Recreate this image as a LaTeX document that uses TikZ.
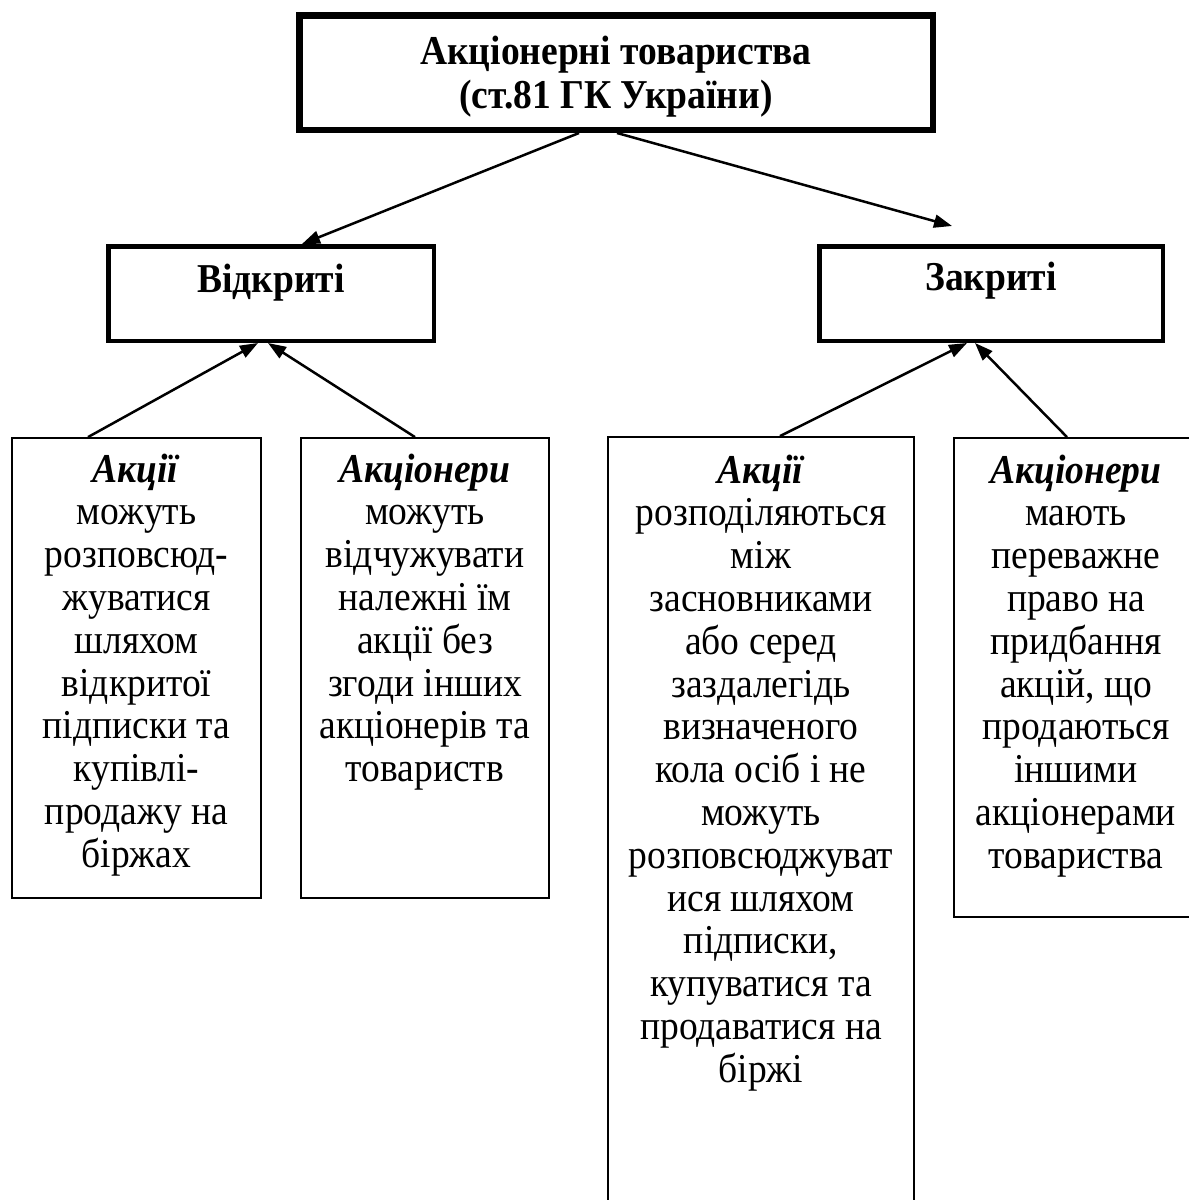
\documentclass[tikz,border=0pt]{standalone}
\usepackage{fontspec}
\setmainfont{Liberation Serif}[FakeStretch=0.915]
\usetikzlibrary{arrows.meta}
\begin{document}
\begin{tikzpicture}[x=1pt,y=-1pt,
  bigbox/.style={draw, line width=6.5pt, inner sep=0, minimum width=633.5pt, minimum height=114.5pt},
  midbox/.style={draw, line width=4.5pt, inner sep=0, minimum height=94.5pt},
  lowbox/.style={draw, line width=1.8pt, inner sep=0},
  txt/.style={align=center, inner sep=0, anchor=north, font=\fontsize{41}{42.8}\selectfont},
  conn/.style={line width=2.5pt, -{Triangle[length=18pt,width=13pt]}},
]
\useasboundingbox (0,0) rectangle (1189,1200);
\fill[white] (0,0) rectangle (1189,1200);
\clip (0,0) rectangle (1189,1200);

% boxes
\node[bigbox] (top) at (616,72.5) {};
\node[midbox, minimum width=325.5pt] (open) at (271,293.5) {};
\node[midbox, minimum width=343.5pt] (closed) at (991,293.5) {};
\node[lowbox, minimum width=249pt, minimum height=460pt] (b1) at (136.5,668) {};
\node[lowbox, minimum width=248pt, minimum height=460pt] (b2) at (425,668) {};
\node[lowbox, minimum width=306pt, minimum height=790pt] (b3) at (761,832) {};
\node[lowbox, minimum width=244pt, minimum height=479pt] (b4) at (1076,677.5) {};

% texts
\node[txt, font=\fontsize{41}{43.5}\selectfont\bfseries] (ttop) at (616,34) {\strut Акціонерні товариства\\(ст.81 ГК України)};
\node[txt, font=\fontsize{41}{42.8}\selectfont\bfseries] (topen) at (271,262) {\strut Відкриті};
\node[txt, font=\fontsize{41}{42.8}\selectfont\bfseries] (tclosed) at (991,260) {\strut Закриті};
\node[txt] (t1) at (136.5,452) {\strut\textbf{\textit{Акції}}\\можуть\\розповсюд-\\жуватися\\шляхом\\відкритої\\підписки та\\купівлі-\\продажу на\\біржах};
\node[txt] (t2) at (425,452) {\strut\textbf{\textit{Акціонери}}\\можуть\\відчужувати\\належні їм\\акції без\\згоди інших\\акціонерів та\\товариств};
\node[txt] (t3) at (761,453) {\strut\textbf{\textit{Акції}}\\розподіляються\\між\\засновниками\\або серед\\заздалегідь\\визначеного\\кола осіб і не\\можуть\\розповсюджуват\\ися шляхом\\підписки,\\купуватися та\\продаватися на\\біржі};
\node[txt] (t4) at (1076,453) {\strut\textbf{\textit{Акціонери}}\\мають\\переважне\\право на\\придбання\\акцій, що\\продаються\\іншими\\акціонерами\\товариства};

% connectors
\draw[conn] ([xshift=-37pt]top.south) -- ([xshift=31pt]open.north);
\coordinate (ctip) at ([xshift=-39pt,yshift=18pt]closed.north);
\draw[conn] ([xshift=1pt]top.south) -- (ctip);
\draw[conn] ([xshift=-48.5pt]b1.north) -- ([xshift=-13pt]open.south);
\draw[conn] ([xshift=-10pt]b2.north) -- ([xshift=-3pt]open.south);
\draw[conn] ([xshift=19pt]b3.north) -- ([xshift=-24pt]closed.south);
\draw[conn] ([xshift=-9pt]b4.north) -- ([xshift=-16pt]closed.south);
\end{tikzpicture}
\end{document}
